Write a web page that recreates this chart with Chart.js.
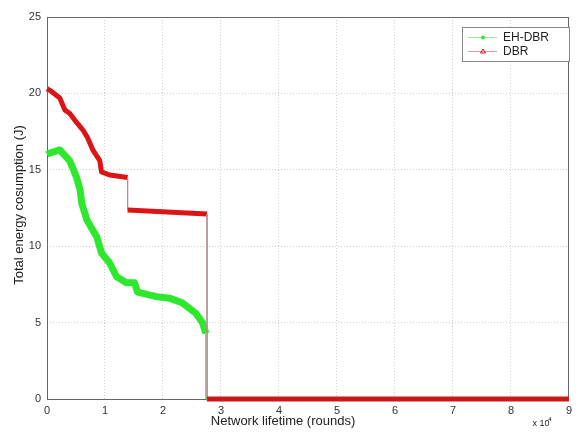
<!DOCTYPE html>
<html>
<head>
<meta charset="utf-8">
<script src="https://cdn.jsdelivr.net/npm/chart.js@4/dist/chart.umd.min.js"></script>
<style>
html,body{margin:0;padding:0;background:#fff;}
#wrap{width:577px;height:434px;position:relative;}
</style>
</head>
<body>
<div id="wrap"><canvas id="c" width="577" height="434"></canvas></div>
<script>
// Values in units of 10^4 rounds
const xTicks = [0,1,2,3,4,5,6,7,8,9];
const yTicks = [0,5,10,15,20,25];
const ehLabel = "EH-DBR";
const dbrLabel = "DBR";
const ehX = [0, 0.05, 0.22, 0.39, 0.51, 0.57, 0.60, 0.69, 0.86, 0.94, 1.08, 1.20, 1.37, 1.51, 1.56, 1.89, 2.11, 2.33, 2.57, 2.68, 2.74, 2.74, 9];
const ehY = [16.0, 16.1, 16.3, 15.6, 14.5, 13.7, 12.8, 11.7, 10.6, 9.55, 8.9, 8.0, 7.6, 7.6, 7.0, 6.7, 6.6, 6.3, 5.6, 5.0, 4.3, 0, 0];
const dbrX = [0, 0.05, 0.22, 0.31, 0.39, 0.51, 0.62, 0.70, 0.79, 0.91, 0.94, 1.08, 1.39, 1.39, 2.76, 2.76, 9];
const dbrY = [20.3, 20.2, 19.7, 18.9, 18.7, 18.1, 17.6, 17.1, 16.3, 15.6, 14.86, 14.66, 14.5, 12.37, 12.1, 0, 0];

const FONT = "'Liberation Sans', Arial, sans-serif";
const GREEN = "#2ee82e";
const RED = "#dd1414";

function pts(xs, ys){ return xs.map((x,i)=>({x:x, y:ys[i]})); }
const isVert = c => c.p0.parsed.x === c.p1.parsed.x;
const isFloor = c => c.p0.parsed.y === 0 && c.p1.parsed.y === 0;

const framePlugin = {
  id:'frame',
  beforeDatasetsDraw(chart){
    const {ctx, chartArea:a} = chart;
    ctx.save();
    ctx.strokeStyle = '#666';
    ctx.lineWidth = 1;
    ctx.strokeRect(Math.round(a.left)+0.5, Math.round(a.top)+0.5, Math.round(a.right-a.left)-1, Math.round(a.bottom-a.top));
    ctx.restore();
  },
  afterDatasetsDraw(chart){
    const {ctx} = chart;
    ctx.save();
    // legend
    const lx = 462, ly = 27, lw = 107, lh = 34;
    ctx.fillStyle = '#fff';
    ctx.fillRect(lx, ly, lw, lh);
    ctx.strokeStyle = '#888';
    ctx.lineWidth = 1;
    ctx.strokeRect(lx+0.5, ly+0.5, lw, lh);
    const items = [[ehLabel, '#9be89b', GREEN, 'star', 37],[dbrLabel, '#d9a0a0', RED, 'tri', 51]];
    items.forEach(([t, lc, mc, m, y])=>{
      ctx.strokeStyle = lc; ctx.lineWidth = 1;
      ctx.beginPath(); ctx.moveTo(468, y+0.5); ctx.lineTo(497, y+0.5); ctx.stroke();
      ctx.fillStyle = mc; ctx.strokeStyle = mc;
      if (m === 'tri'){
        ctx.beginPath(); ctx.moveTo(483, y-2); ctx.lineTo(485.5, y+2); ctx.lineTo(480.5, y+2); ctx.closePath(); ctx.stroke();
      } else {
        ctx.beginPath(); ctx.arc(483, y+0.5, 2, 0, Math.PI*2); ctx.fill();
      }
      ctx.fillStyle = '#222'; ctx.font = '12px ' + FONT;
      ctx.textAlign = 'left'; ctx.textBaseline = 'middle';
      ctx.fillText(t, 503, y+1);
    });
    // axis titles
    ctx.fillStyle = '#222';
    ctx.font = '13px ' + FONT;
    ctx.textAlign = 'center'; ctx.textBaseline = 'middle';
    ctx.fillText('Network lifetime (rounds)', 283, 421);
    ctx.font = '9px ' + FONT;
    ctx.fillText('x 10', 541, 424);
    ctx.font = '6px ' + FONT;
    ctx.fillText('4', 550, 419);
    ctx.save();
    ctx.translate(19, 205);
    ctx.rotate(-Math.PI/2);
    ctx.font = '13px ' + FONT;
    ctx.fillText('Total energy cosumption (J)', 0, 0);
    ctx.restore();
    ctx.restore();
  }
};

new Chart(document.getElementById('c'), {
  type:'line',
  data:{
    datasets:[
      {label:dbrLabel, data:pts(dbrX, dbrY), borderColor:RED, borderWidth:5, pointRadius:0, tension:0, order:0, clip:false,
        borderJoinStyle:'round', borderCapStyle:'butt',
        segment:{borderWidth:c=>isVert(c)?1:5, borderColor:c=>isVert(c)?'#b89090':(isFloor(c)?'#c81818':RED)}},
      {label:ehLabel, data:pts(ehX, ehY), borderColor:GREEN, borderWidth:7, pointRadius:0, tension:0, order:1, clip:false,
        borderJoinStyle:'round', borderCapStyle:'butt',
        segment:{borderWidth:c=>isVert(c)?1:(isFloor(c)?3:7), borderColor:c=>isVert(c)?'#8fcf8f':GREEN}}
    ]
  },
  options:{
    responsive:false, animation:false,
    layout:{padding:{left:0, right:5, top:17, bottom:0}},
    plugins:{legend:{display:false}, tooltip:{enabled:false}},
    scales:{
      x:{type:'linear', min:0, max:9,
        afterBuildTicks(s){ s.ticks = xTicks.map(v=>({value:v})); },
        afterFit(s){ s.height = 35; },
        border:{display:false, dash:[1,2]},
        grid:{color:'#cfcfcf', drawTicks:false, lineWidth:1},
        ticks:{padding:5, color:'#333', font:{family:FONT, size:11}, maxRotation:0}
      },
      y:{type:'linear', min:0, max:25,
        afterBuildTicks(s){ s.ticks = yTicks.map(v=>({value:v})); },
        afterFit(s){ s.width = 47; },
        border:{display:false, dash:[1,2]},
        grid:{color:'#cfcfcf', drawTicks:false, lineWidth:1},
        ticks:{padding:6, color:'#333', font:{family:FONT, size:11}}
      }
    }
  },
  plugins:[framePlugin]
});
</script>
</body>
</html>
